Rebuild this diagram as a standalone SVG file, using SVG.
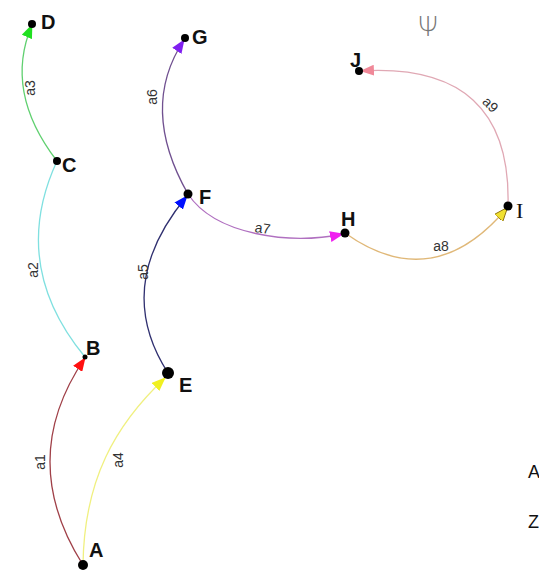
<svg xmlns="http://www.w3.org/2000/svg" width="539" height="577" viewBox="0 0 539 577">
<style>
.e{fill:none;stroke-width:1.3}
.n{fill:#000}
.nl{font-family:"Liberation Sans",Arial,sans-serif;font-size:20px;font-weight:bold;fill:#111}
.el{font-family:"Liberation Sans",Arial,sans-serif;font-size:14px;fill:#333}
</style>
<defs>
<marker id="mRed" viewBox="0 0 14 11" refX="13" refY="5.5" markerWidth="14" markerHeight="11" markerUnits="userSpaceOnUse" orient="auto"><path d="M0,0L14,5.5L0,11z" fill="#ff1010"/></marker>
<marker id="mGreen" viewBox="0 0 14 11" refX="13" refY="5.5" markerWidth="14" markerHeight="11" markerUnits="userSpaceOnUse" orient="auto"><path d="M0,0L14,5.5L0,11z" fill="#20e020"/></marker>
<marker id="mYellow" viewBox="0 0 14 11" refX="13" refY="5.5" markerWidth="14" markerHeight="11" markerUnits="userSpaceOnUse" orient="auto"><path d="M0,0L14,5.5L0,11z" fill="#f0f020"/></marker>
<marker id="mBlue" viewBox="0 0 14 11" refX="13" refY="5.5" markerWidth="14" markerHeight="11" markerUnits="userSpaceOnUse" orient="auto"><path d="M0,0L14,5.5L0,11z" fill="#0010ff"/></marker>
<marker id="mPurple" viewBox="0 0 14 11" refX="13" refY="5.5" markerWidth="14" markerHeight="11" markerUnits="userSpaceOnUse" orient="auto"><path d="M0,0L14,5.5L0,11z" fill="#8020f0"/></marker>
<marker id="mMagenta" viewBox="0 0 14 11" refX="13" refY="5.5" markerWidth="14" markerHeight="11" markerUnits="userSpaceOnUse" orient="auto"><path d="M0,0L14,5.5L0,11z" fill="#f020f0"/></marker>
<marker id="mGold" viewBox="0 0 14 11" refX="13" refY="5.5" markerWidth="14" markerHeight="11" markerUnits="userSpaceOnUse" orient="auto"><path d="M0,0L14,5.5L0,11z" fill="#f0e030" stroke="#806000" stroke-width="0.8"/></marker>
<marker id="mPink" viewBox="0 0 14 11" refX="13" refY="5.5" markerWidth="14" markerHeight="11" markerUnits="userSpaceOnUse" orient="auto"><path d="M0,0L14,5.5L0,11z" fill="#f08898"/></marker>
</defs>
<rect width="539" height="577" fill="#fff"/>
<g id="connectors">
<path id="a1" class="e" d="M83,565 Q16,459 85,358" stroke="#a04048" marker-end="url(#mRed)"/>
<path id="a2" class="e" d="M85,357 Q9,265 57,161" stroke="#80e0e0"/>
<path id="a3" class="e" d="M57,161 Q3.5,91.5 32,25" stroke="#60d070" marker-end="url(#mGreen)"/>
<path id="a4" class="e" d="M83,565 C84,480 115,425 165,378" stroke="#f0f080" stroke-width="2" marker-end="url(#mYellow)"/>
<path id="a5" class="e" d="M168,373 Q112,286 187,196" stroke="#303070" marker-end="url(#mBlue)"/>
<path id="a6" class="e" d="M188,194 Q139,108 184,40" stroke="#705090" marker-end="url(#mPurple)"/>
<path id="a7" class="e" d="M188,194 C215,235 290,245 343,234" stroke="#b070c0" marker-end="url(#mMagenta)"/>
<path id="a8" class="e" d="M345,233 Q433,296 507,208" stroke="#e0b878" marker-end="url(#mGold)"/>
<path id="a9" class="e" d="M508,206 Q512,62 361,71" stroke="#e0a8b4" marker-end="url(#mPink)"/>
<text class="el" transform="translate(45,462) rotate(-90)" text-anchor="middle">a1</text>
<text class="el" transform="translate(38,270) rotate(-90)" text-anchor="middle">a2</text>
<text class="el" transform="translate(35,88) rotate(-90)" text-anchor="middle">a3</text>
<text class="el" transform="translate(123,460) rotate(-90)" text-anchor="middle">a4</text>
<text class="el" transform="translate(148,272) rotate(-90)" text-anchor="middle">a5</text>
<text class="el" transform="translate(157,97) rotate(-90)" text-anchor="middle">a6</text>
<text class="el" transform="translate(262,233) rotate(8)" text-anchor="middle">a7</text>
<text class="el" x="441" y="251" text-anchor="middle">a8</text>
<text class="el" transform="translate(487,108) rotate(45)" text-anchor="middle">a9</text>
</g>
<g id="A"><circle class="n" cx="83" cy="565" r="5"/><text class="nl" x="89" y="557">A</text></g>
<g id="B"><circle class="n" cx="85" cy="357" r="2.5"/><text class="nl" x="86" y="355">B</text></g>
<g id="C"><circle class="n" cx="57" cy="161" r="4"/><text class="nl" x="62" y="172">C</text></g>
<g id="D"><circle class="n" cx="32" cy="24" r="4"/><text class="nl" x="41" y="29">D</text></g>
<g id="E"><circle class="n" cx="168" cy="373" r="6"/><text class="nl" x="179" y="392">E</text></g>
<g id="F"><circle class="n" cx="188" cy="194" r="4.5"/><text class="nl" x="199" y="204">F</text></g>
<g id="G"><circle class="n" cx="185" cy="38" r="4"/><text class="nl" x="192" y="44">G</text></g>
<g id="H"><circle class="n" cx="345" cy="233" r="4.5"/><text class="nl" x="341" y="226">H</text></g>
<g id="I"><circle class="n" cx="508" cy="206" r="4.5"/><text x="516" y="218" font-family="'Liberation Serif',serif" font-size="22" fill="#111">I</text></g>
<g id="J"><circle class="n" cx="359" cy="71" r="4"/><text class="nl" x="350" y="67">J</text></g>
<g id="extra">
<text x="428" y="36" font-family="'DejaVu Sans',sans-serif" font-size="26" font-weight="200" fill="#777" text-anchor="middle">Ψ</text>
<text x="528" y="478" font-family="'Liberation Sans',sans-serif" font-size="18" fill="#111">A</text>
<text x="528" y="528" font-family="'Liberation Sans',sans-serif" font-size="18" fill="#111">Z</text>
</g>
</svg>
